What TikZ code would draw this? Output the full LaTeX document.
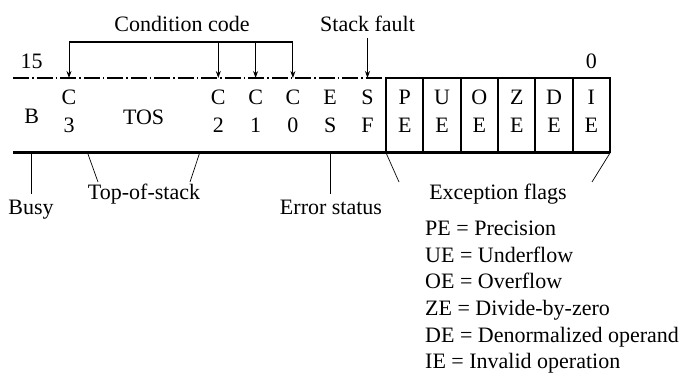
\documentclass[tikz,border=0pt]{standalone}
\usepackage{fontspec}
\setmainfont{Liberation Serif}
\usetikzlibrary{arrows.meta}
\begin{document}
\begin{tikzpicture}[x=1pt,y=-1pt,
  lbl/.style={inner sep=0pt, font=\fontsize{22}{26}\selectfont, text height=15pt, text depth=5pt},
  cell/.style={inner sep=0pt, font=\fontsize{22}{28}\selectfont, align=center},
  leg/.style={lbl, anchor=west},
  thinline/.style={line width=0.7pt},
  ptr/.style={line width=0.9pt, -{Stealth[length=7pt,width=5pt]}},
  regline/.style={line width=2pt},
  topdash/.style={line width=1.3pt, dash pattern=on 16pt off 3pt on 1.5pt off 3pt},
]
\useasboundingbox (0,0) rectangle (683,374);

% register outline
\coordinate (rl) at (13,78);
\coordinate (rm) at (386.1,78);
\coordinate (rr) at (610,78);
\coordinate (bl) at (13,153);
\coordinate (bm) at (386.1,153);
\coordinate (br) at (610,153);
\draw[topdash] (rl) -- (rm);
\draw[regline] (rm) -- (rr) -- (br);
\draw[regline] (rm) -- (bm);
\foreach \xx in {423.4,460.8,498.1,535.4,572.7}
  \draw[regline] (\xx,78) -- (\xx,153);
\draw[line width=3pt] (bl) -- (br);

% bit numbers
\node[lbl] (n15) at (31.7,64) {15};
\node[lbl] (n0) at (591.4,64) {0};

% fields
\node[lbl] (bB) at (31.7,119) {B};
\node[cell] (bC3) at (69.0,111.5) {C\\3};
\node[lbl] (bTOS) at (143.6,120) {TOS};
\node[cell] (bC2) at (218.3,111.5) {C\\2};
\node[cell] (bC1) at (255.6,111.5) {C\\1};
\node[cell] (bC0) at (292.9,111.5) {C\\0};
\node[cell] (bES) at (330.2,111.5) {E\\S};
\node[cell] (bSF) at (367.5,111.5) {S\\F};
\node[cell] (bPE) at (404.8,111.5) {P\\E};
\node[cell] (bUE) at (442.1,111.5) {U\\E};
\node[cell] (bOE) at (479.4,111.5) {O\\E};
\node[cell] (bZE) at (516.8,111.5) {Z\\E};
\node[cell] (bDE) at (554.1,111.5) {D\\E};
\node[cell] (bIE) at (591.4,111.5) {I\\E};

% condition code
\node[lbl] (cclab) at (182,27) {Condition code};
\coordinate (ccl) at (69.0,42);
\coordinate (ccr) at (292.9,42);
\draw[line width=2.5pt] (ccl) -- (ccr);
\coordinate (tc3) at (69.0,78);
\coordinate (tc2) at (218.3,78);
\coordinate (tc1) at (255.6,78);
\coordinate (tc0) at (292.9,78);
\coordinate (cc2) at (218.3,42);
\coordinate (cc1) at (255.6,42);
\draw[ptr] (ccl) -- (tc3);
\draw[ptr] (cc2) -- (tc2);
\draw[ptr] (cc1) -- (tc1);
\draw[ptr] (ccr) -- (tc0);

% stack fault
\node[lbl] (sflab) at (367.5,27) {Stack fault};
\coordinate (sfs) at (367.5,38);
\coordinate (tsf) at (367.5,78);
\draw[ptr] (sfs) -- (tsf);

% below the register
\node[lbl] (busy) at (31,210) {Busy};
\coordinate (bbusy) at (31.7,153);
\coordinate (ebusy) at (31.7,194);
\draw[thinline] (bbusy) -- (ebusy);

\node[lbl] (tos) at (144,195) {Top-of-stack};
\coordinate (tosl) at (87.6,153);
\coordinate (tosr) at (199.6,153);
\coordinate (tosle) at (98,182);
\coordinate (tosre) at (190,182);
\draw[thinline] (tosl) -- (tosle);
\draw[thinline] (tosr) -- (tosre);

\node[lbl] (err) at (331,210) {Error status};
\coordinate (berr) at (330.2,153);
\coordinate (eerr) at (330.2,194);
\draw[thinline] (berr) -- (eerr);

\node[lbl] (exc) at (498,195) {Exception flags};
\coordinate (excle) at (399,182);
\coordinate (excre) at (592,182);
\draw[thinline] (bm) -- (excle);
\draw[thinline] (br) -- (excre);

% legend
\node[leg] (l1) at (425,231) {PE = Precision};
\node[leg] (l2) at (425,257.5) {UE = Underflow};
\node[leg] (l3) at (425,284) {OE = Overflow};
\node[leg] (l4) at (425,310.5) {ZE = Divide-by-zero};
\node[leg] (l5) at (425,337) {DE = Denormalized operand};
\node[leg] (l6) at (425,363) {IE = Invalid operation};
\end{tikzpicture}
\end{document}
